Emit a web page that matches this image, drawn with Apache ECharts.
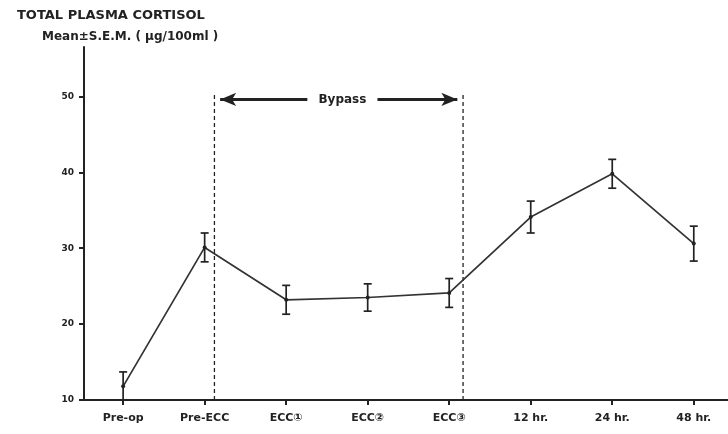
<!DOCTYPE html>
<html>
<head>
<meta charset="utf-8">
<script src="https://cdn.jsdelivr.net/npm/echarts@6/dist/echarts.min.js"></script>
<style>
  html, body { margin: 0; padding: 0; background: #ffffff; }
  #chart { width: 728px; height: 434px; }
</style>
</head>
<body>
<div id="chart"></div>
<script>
// ---- data ----
const categories = ['Pre-op', 'Pre-ECC', 'ECC①', 'ECC②', 'ECC③', '12 hr.', '24 hr.', '48 hr.'];
const meanValues = [11.8, 30.1, 23.2, 23.5, 24.1, 34.1, 39.8, 30.6];
const semValues  = [1.9, 1.9, 1.9, 1.8, 1.9, 2.1, 1.9, 2.3];
const yTickValues = [10, 20, 30, 40, 50];
const bypassBounds = [1.12, 4.17];   // category-index positions of the dashed bypass lines
const bypassLabel = 'Bypass';

// ---- chart ----
const ink = '#222222';
const yMin = 10, yMax = 56.5;
const xMin = -0.48, xMax = 7.42;

const lineData = meanValues.map((v, i) => [i, v]);
const errData = meanValues.map((v, i) => [i, v, semValues[i]]);
const xTicks = categories.map((c, i) => i);

const chart = echarts.init(document.getElementById('chart'), null, { renderer: 'canvas' });

const option = {
  backgroundColor: '#ffffff',
  animation: false,
  textStyle: { fontFamily: 'DejaVu Sans', color: ink },
  title: [
    {
      text: 'TOTAL PLASMA CORTISOL',
      left: 17, top: 9, padding: 0,
      textStyle: { fontFamily: 'DejaVu Sans', fontWeight: 'bold', fontSize: 13, color: ink }
    },
    {
      text: 'Mean±S.E.M. ( μg/100ml )',
      left: 42, top: 31, padding: 0,
      textStyle: { fontFamily: 'DejaVu Sans', fontWeight: 'bold', fontSize: 12, color: ink }
    }
  ],
  grid: { left: 84, right: 0, top: 47, bottom: 34, containLabel: false },
  xAxis: {
    type: 'value',
    min: xMin, max: xMax,
    splitLine: { show: false },
    axisLine: { show: true, onZero: false, lineStyle: { color: ink, width: 2 } },
    axisTick: { show: true, customValues: xTicks, length: 5, lineStyle: { color: ink, width: 2 } },
    axisLabel: {
      customValues: xTicks,
      margin: 13,
      fontFamily: 'DejaVu Sans', fontWeight: 'bold', fontSize: 11, color: ink,
      formatter: v => categories[Math.round(v)]
    }
  },
  yAxis: {
    type: 'value',
    min: yMin, max: yMax,
    splitLine: { show: false },
    axisLine: { show: true, onZero: false, lineStyle: { color: ink, width: 2 } },
    axisTick: { show: true, customValues: yTickValues, length: 5, lineStyle: { color: ink, width: 2 } },
    axisLabel: {
      customValues: yTickValues,
      margin: 10,
      fontFamily: 'DejaVu Sans', fontWeight: 'bold', fontSize: 9, color: ink
    }
  },
  series: [
    // dashed bypass boundaries
    {
      type: 'line', name: 'bypassStart', silent: true, symbol: 'none',
      data: [[bypassBounds[0], yMin], [bypassBounds[0], 50.2]],
      lineStyle: { color: ink, width: 1.3, type: [4, 3] }
    },
    {
      type: 'line', name: 'bypassEnd', silent: true, symbol: 'none',
      data: [[bypassBounds[1], yMin], [bypassBounds[1], 50.2]],
      lineStyle: { color: ink, width: 1.3, type: [4, 3] }
    },
    // Bypass arrows + label
    {
      type: 'line', name: 'bypassArrows', silent: true, symbol: 'none', data: [],
      markLine: {
        silent: true, animation: false,
        symbolSize: [10, 16],
        label: { show: false },
        lineStyle: { color: ink, width: 3, type: 'solid' },
        data: [
          [ { coord: [bypassBounds[0] + 0.07, 49.6], symbol: 'arrow' },
            { coord: [2.26, 49.6], symbol: 'none' } ],
          [ { coord: [3.12, 49.6], symbol: 'none' },
            { coord: [bypassBounds[1] - 0.07, 49.6], symbol: 'arrow' } ]
        ]
      },
      markPoint: {
        silent: true, symbol: 'rect', symbolSize: 1,
        itemStyle: { color: 'rgba(0,0,0,0)' },
        label: {
          show: true, position: 'inside', formatter: bypassLabel,
          fontFamily: 'DejaVu Sans', fontWeight: 'bold', fontSize: 12, color: ink
        },
        data: [ { coord: [2.69, 49.6] } ]
      }
    },
    // error bars
    {
      type: 'custom', name: 'SEM', silent: true,
      data: errData,
      encode: { x: 0, y: 1 },
      renderItem: function (params, api) {
        const x = api.value(0), m = api.value(1), s = api.value(2);
        const top = api.coord([x, m + s]);
        const lowVal = m - s;
        const bot = api.coord([x, Math.max(lowVal, yMin)]);
        const hw = 4;
        const style = { stroke: ink, lineWidth: 1.7 };
        const children = [
          { type: 'line', shape: { x1: top[0], y1: top[1], x2: bot[0], y2: bot[1] }, style: style },
          { type: 'line', shape: { x1: top[0] - hw, y1: top[1], x2: top[0] + hw, y2: top[1] }, style: style }
        ];
        if (lowVal >= yMin) {
          children.push({ type: 'line', shape: { x1: bot[0] - hw, y1: bot[1], x2: bot[0] + hw, y2: bot[1] }, style: style });
        }
        return { type: 'group', children: children };
      },
      z: 3
    },
    // mean line
    {
      type: 'line', name: 'Total plasma cortisol',
      data: lineData,
      symbol: 'circle', symbolSize: 4,
      itemStyle: { color: ink },
      lineStyle: { color: '#333333', width: 1.7 },
      z: 4
    }
  ]
};

chart.setOption(option);
</script>
</body>
</html>
